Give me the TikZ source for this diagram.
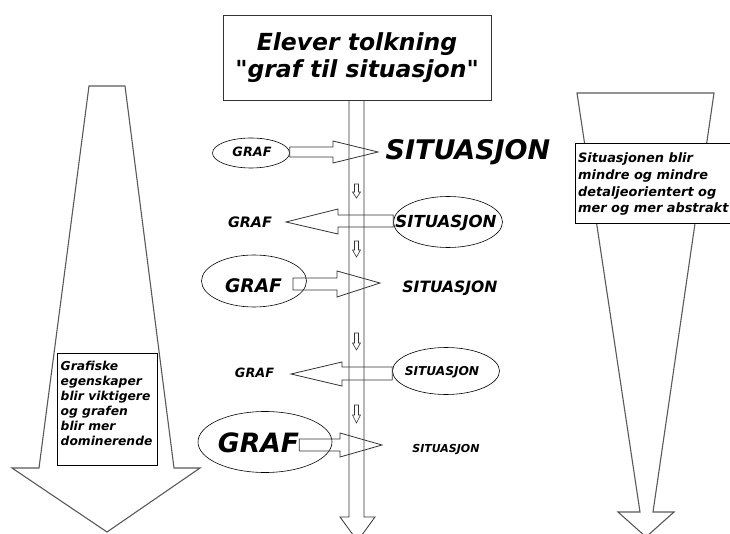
\documentclass[tikz,border=0pt]{standalone}
\usepackage{fontspec}
\setmainfont{DejaVu Sans}
\usetikzlibrary{shapes.geometric}
\begin{document}
\begin{tikzpicture}[x=1pt,y=-1pt,
  bigarrow/.style={draw=black!65, line width=1.1pt, line join=miter},
  barrow/.style={draw=black!80, line width=0.8pt, line join=miter},
  smallarrow/.style={draw=black!80, line width=0.6pt},
  oval/.style={draw=black, line width=0.6pt, ellipse, inner sep=0pt},
  lbl/.style={font=\bfseries\itshape\fontsize{#1}{#1}\selectfont, inner sep=0pt, anchor=base},
  textbox/.style={draw=black, line width=0.8pt, fill=white, inner sep=0pt}]
\useasboundingbox (0,0) rectangle (730,534);

% big side arrows
\draw[bigarrow] (89,86) -- (125,86) -- (174,468) -- (200,468) -- (107,532) -- (12,468) -- (39,468) -- cycle;
\draw[bigarrow] (577,93) -- (714,93) -- (653,512) -- (674,512) -- (646,537) -- (618,512) -- (640,512) -- cycle;

% side text boxes
\node[textbox, minimum width=100pt, minimum height=112pt, anchor=north west] (lbox) at (57,353) {};
\node[font=\bfseries\itshape\fontsize{12.3}{15}\selectfont, align=left, inner sep=0pt, anchor=base west] (ltext) at (60.5,445)
  {Grafiske\\egenskaper\\blir viktigere\\og grafen\\blir mer\\dominerende};
\node[textbox, minimum width=157pt, minimum height=80pt, anchor=north west] (rbox) at (575,143) {};
\node[font=\bfseries\itshape\fontsize{12.9}{16.7}\selectfont, align=left, inner sep=0pt, anchor=base west] (rtext) at (578,213)
  {Situasjonen blir\\mindre og mindre\\detaljeorientert og\\mer og mer abstrakt};

% title
\node[draw=black!80, line width=0.9pt, minimum width=268pt, minimum height=85pt, inner sep=0pt,
      font=\bfseries\itshape\fontsize{23.5}{27.5}\selectfont, align=center] (title) at (357,57.5)
  {Elever tolkning\\\textquotedbl graf til situasjon\textquotedbl};

% central vertical arrow
\draw[barrow] (title.south -| 349,0) -- (349,517) -- (340,517) -- (357.5,541) -- (375,517) -- (364,517) -- (title.south -| 364,0);

% small arrows in shaft
\foreach \a/\b/\c in {184/192/198, 241/250/257, 333/343/350, 405/415/423}
  \draw[smallarrow] (354.5,\a) -- (354.5,\b) -- (352.5,\b) -- (356.5,\c) -- (360.5,\b) -- (358.5,\b) -- (358.5,\a) -- cycle;

% ellipses
\node[oval, minimum width=77pt, minimum height=30pt] (e1) at (251,153) {};
\node[oval, minimum width=109pt, minimum height=51pt] (e2) at (448,222) {};
\node[oval, minimum width=105pt, minimum height=52pt] (e3) at (254,281) {};
\node[oval, minimum width=107pt, minimum height=47pt] (e4) at (446,371) {};
\node[oval, minimum width=134pt, minimum height=61pt] (e5) at (265,442) {};

% labels
\node[lbl=12.8] (g1) at (252,157) {GRAF};
\node[lbl=27] (s1) at (468,160) {SITUASJON};
\node[lbl=14.4] (g2) at (250,228) {GRAF};
\node[lbl=16.6] (s2) at (446,228) {SITUASJON};
\node[lbl=18.7] (g3) at (253.5,292) {GRAF};
\node[lbl=15.6] (s3) at (450,293) {SITUASJON};
\node[lbl=12.8] (g4) at (254.5,377) {GRAF};
\node[lbl=12.2] (s4) at (442,375) {SITUASJON};
\node[lbl=26.6] (g5) at (258.5,452) {GRAF};
\node[lbl=11] (s5) at (446,452) {SITUASJON};

% horizontal block arrows
\draw[barrow] (e1.east |- 0,147) -- (333,147) -- (333,141) -- (378,152) -- (333,163) -- (333,157) -- (e1.east |- 0,157) -- cycle;
\draw[barrow] (e2.west |- 0,215) -- (338,215) -- (338,209) -- (286,222) -- (338,234) -- (338,227) -- (e2.west |- 0,227) -- cycle;
\draw[barrow] (293,278) -- (337,278) -- (337,271) -- (380,283) -- (337,297) -- (337,290) -- (293,290) -- cycle;
\draw[barrow] (e4.west |- 0,367) -- (342,367) -- (342,362) -- (291,374) -- (342,386) -- (342,380) -- (e4.west |- 0,380) -- cycle;
\draw[barrow] (g5.east |- 0,439) -- (340,439) -- (340,433) -- (382,445) -- (340,457) -- (340,451) -- (g5.east |- 0,451) -- cycle;
\end{tikzpicture}
\end{document}
